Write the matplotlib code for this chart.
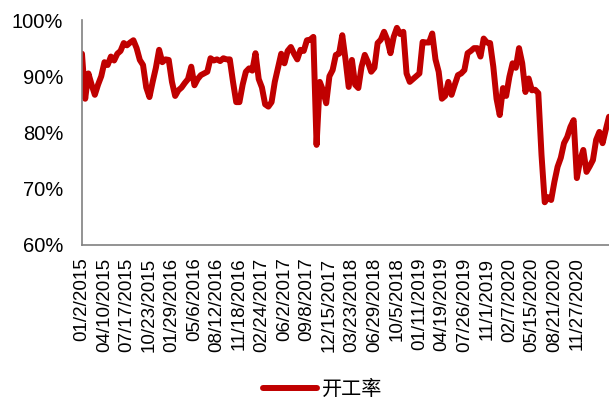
import numpy as np
import pandas as pd
import matplotlib
matplotlib.use('Agg')
import matplotlib.pyplot as plt

plt.rcParams['font.family'] = ['Liberation Sans', 'Noto Sans CJK SC', 'DejaVu Sans']

# biweekly 开工率 (%), starting 2015-01-02
rate = [94.0, 86.0, 90.5, 88.5, 86.7, 88.5, 90.0, 92.5, 92.0, 93.5,
        92.8, 94.0, 94.5, 95.9, 95.5, 96.0, 96.4, 95.0, 92.9, 92.0,
        88.0, 86.3, 89.0, 91.5, 94.7, 92.5, 93.0, 92.9, 89.0, 86.5,
        87.5, 88.0, 88.8, 89.5, 91.7, 88.4, 89.5, 90.2, 90.5, 90.8,
        93.2, 92.8, 93.0, 92.7, 93.2, 93.0, 93.0, 89.0, 85.4, 85.4,
        88.5, 90.8, 91.4, 91.0, 94.1, 89.5, 88.0, 85.0, 84.6, 85.4,
        89.0, 91.5, 94.0, 92.3, 94.5, 95.2, 94.0, 93.0, 94.7, 94.5,
        96.4, 96.5, 97.0, 77.8, 89.0, 87.5, 85.2, 90.0, 91.1, 93.8,
        94.0, 97.3, 93.0, 88.1, 92.9, 88.5, 87.9, 91.7, 93.8, 92.5,
        90.8, 91.5, 95.9, 96.5, 97.9, 96.5, 94.1, 97.0, 98.6, 97.5,
        97.9, 90.5, 89.0, 89.5, 90.0, 90.5, 96.1, 96.0, 96.0, 97.6,
        93.0, 90.8, 86.0, 86.5, 89.0, 86.7, 88.5, 90.2, 90.5, 91.1,
        94.1, 94.5, 95.0, 95.0, 93.5, 96.7, 96.0, 95.9, 91.7, 86.0,
        83.1, 87.9, 86.5, 89.9, 92.3, 91.5, 95.0, 92.3, 87.2, 89.6,
        87.5, 87.6, 87.0, 76.0, 67.6, 68.5, 68.0, 71.2, 73.9, 75.5,
        78.1, 79.2, 81.0, 82.2, 71.9, 75.0, 76.9, 73.0, 74.0, 75.1,
        78.7, 80.1, 78.1, 80.5, 82.8]

dates = pd.date_range('2015-01-02', periods=len(rate), freq='14D')
# labels every 14 weeks, last shown one is 11/27/2020
tick_dates = dates[:155:7]
tick_labels = [f"{d.month:02d}/{d.day}/{d.year}" for d in tick_dates]

fig = plt.figure(figsize=(6.09, 4.0), dpi=100)
ax = fig.add_axes([0.1346, 0.3875, 0.8654, 0.5625])

ax.plot(dates, np.array(rate) / 100, color='#C00000', lw=4.3,
        solid_joinstyle='round', solid_capstyle='round', label='开工率')

ax.set_ylim(0.6, 1.0)
ax.set_xlim(dates[0], dates[-1])
ax.set_yticks([0.6, 0.7, 0.8, 0.9, 1.0])
ax.set_yticklabels(['60%', '70%', '80%', '90%', '100%'], fontsize=14.5)
ax.set_xticks(tick_dates)
ax.set_xticklabels(tick_labels, rotation=90, fontsize=13.5)
ax.tick_params(axis='both', length=0)
ax.tick_params(axis='y', pad=13.5)
ax.tick_params(axis='x', pad=9)

for s in ['top', 'right']:
    ax.spines[s].set_visible(False)
for s in ['left', 'bottom']:
    ax.spines[s].set_color('#808080')
    ax.spines[s].set_linewidth(1.2)

fig.legend(loc='lower center', bbox_to_anchor=(0.53, -0.045), frameon=False,
           prop={'family': ['Noto Sans CJK SC'], 'size': 14.5},
           handlelength=2.65, handletextpad=0.25)

fig.savefig('out.png', dpi=100)
